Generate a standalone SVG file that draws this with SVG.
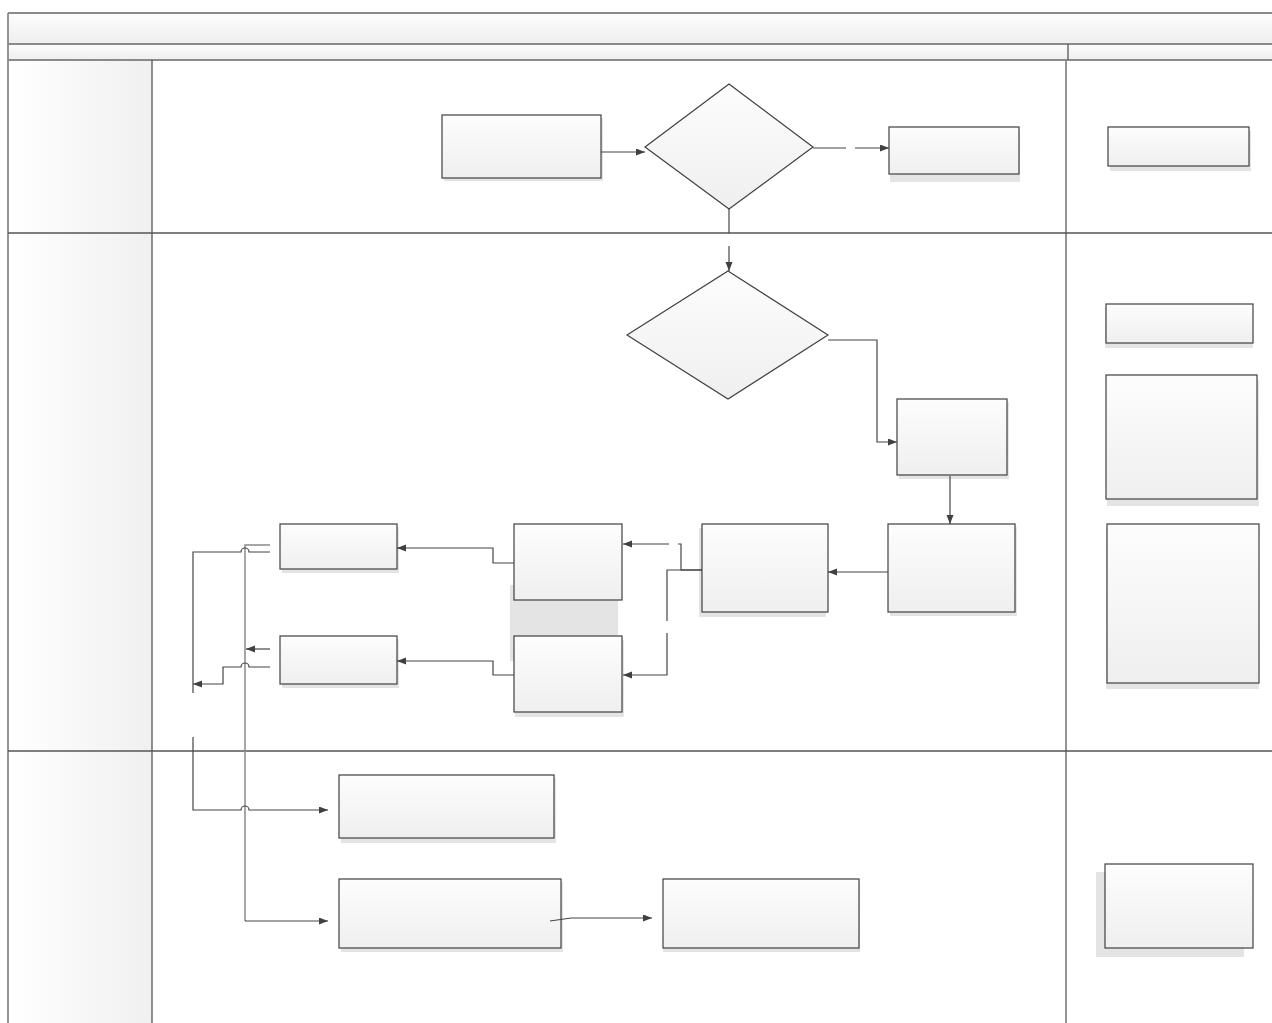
<svg xmlns="http://www.w3.org/2000/svg" width="1272" height="1023" viewBox="0 0 1272 1023">
<defs>
<linearGradient id="boxGrad" x1="0" y1="0" x2="0" y2="1"><stop offset="0" stop-color="#fdfdfd"/><stop offset="1" stop-color="#efefef"/></linearGradient>
<linearGradient id="headGrad" x1="0" y1="0" x2="1" y2="0"><stop offset="0" stop-color="#ffffff"/><stop offset="1" stop-color="#f0f0f0"/></linearGradient>
<linearGradient id="titleGrad" x1="0" y1="0" x2="0" y2="1"><stop offset="0" stop-color="#fdfdfd"/><stop offset="1" stop-color="#eeeeee"/></linearGradient>
<marker id="arr" markerWidth="10" markerHeight="8" refX="9" refY="3.5" orient="auto" markerUnits="userSpaceOnUse"><path d="M0,0 L9,3.5 L0,7 z" fill="#404040"/></marker>
</defs>
<style>
.box{fill:url(#boxGrad);stroke:#404040;stroke-width:1.2}
.sh{fill:#e4e4e4}
.lane{fill:none;stroke:#555;stroke-width:1.3}
.lane2{fill:none;stroke:#8a8a8a;stroke-width:1.8}
.c{fill:none;stroke:#454545;stroke-width:1.2}
.cg{fill:none;stroke:#8a8a8a;stroke-width:1.5}
</style>
<rect width="1272" height="1023" fill="#ffffff"/>
<g id="pool">
<rect x="8" y="13" width="1270" height="31" fill="url(#titleGrad)"/>
<rect x="8" y="44" width="1270" height="16" fill="url(#titleGrad)"/>
<rect x="8" y="60" width="144" height="963" fill="url(#headGrad)"/>
<line class="lane2" x1="8" y1="13" x2="1272" y2="13"/>
<line class="lane2" x1="8" y1="44" x2="1272" y2="44"/>
<line class="lane2" x1="8" y1="60" x2="1272" y2="60"/>
<line class="lane2" x1="8" y1="13" x2="8" y2="1023"/>
<line class="lane" x1="1068" y1="44" x2="1068" y2="60"/>
<line class="lane" x1="152" y1="60" x2="152" y2="1023"/>
<line class="lane2" x1="1066" y1="60" x2="1066" y2="1023"/>
<line class="lane" x1="8" y1="233" x2="1272" y2="233"/>
<line class="lane" x1="8" y1="751" x2="1272" y2="751"/>
</g>
<rect class="sh" x="510" y="585" width="108" height="76"/>
<g id="nA"><rect class="sh" x="444" y="118" width="159" height="63"/><rect class="box" x="442" y="115" width="159" height="63"/></g>
<g id="nD1"><polygon class="box" points="729,84 813,147 729,209 645,147"/></g>
<g id="nB"><rect class="sh" x="890" y="131" width="130" height="51"/><rect class="box" x="889" y="127" width="130" height="47"/></g>
<g id="nR1"><rect class="sh" x="1110" y="131" width="141" height="40"/><rect class="box" x="1108" y="127" width="141" height="39"/></g>
<g id="nD2"><polygon class="box" points="728,271 828,335 728,399 627,335"/></g>
<g id="nC"><rect class="sh" x="899" y="402" width="110" height="77"/><rect class="box" x="897" y="399" width="110" height="76"/></g>
<g id="nD"><rect class="sh" x="890" y="527" width="127" height="89"/><rect class="box" x="888" y="524" width="127" height="88"/></g>
<g id="nE"><rect class="sh" x="699" y="528" width="127" height="89"/><rect class="box" x="702" y="524" width="126" height="88"/></g>
<g id="nF"><rect class="box" x="514" y="524" width="108" height="76"/></g>
<g id="nG"><rect class="sh" x="515" y="640" width="109" height="77"/><rect class="box" x="514" y="636" width="108" height="76"/></g>
<g id="nH"><rect class="sh" x="282" y="527" width="117" height="46"/><rect class="box" x="280" y="524" width="117" height="45"/></g>
<g id="nI"><rect class="sh" x="282" y="639" width="117" height="49"/><rect class="box" x="280" y="636" width="117" height="48"/></g>
<g id="nJ"><rect class="sh" x="341" y="778" width="215" height="65"/><rect class="box" x="339" y="775" width="215" height="63"/></g>
<g id="nK"><rect class="sh" x="341" y="882" width="222" height="70"/><rect class="box" x="339" y="879" width="222" height="69"/></g>
<g id="nL"><rect class="sh" x="663" y="882" width="197" height="70"/><rect class="box" x="663" y="879" width="196" height="69"/></g>
<g id="nR2"><rect class="sh" x="1105" y="308" width="148" height="40"/><rect class="box" x="1106" y="304" width="147" height="39"/></g>
<g id="nR3"><rect class="sh" x="1107" y="380" width="152" height="126"/><rect class="box" x="1106" y="375" width="151" height="124"/></g>
<g id="nR4"><rect class="sh" x="1106" y="529" width="153" height="160"/><rect class="box" x="1107" y="524" width="152" height="159"/></g>
<g id="nR5"><rect class="sh" x="1096" y="872" width="148" height="85"/><rect class="box" x="1105" y="864" width="148" height="84"/></g>
<g id="connectors">
<path class="c" d="M601,152 H645" marker-end="url(#arr)"/>
<path class="c" d="M813,148 H846"/>
<path class="c" d="M855,148 H889" marker-end="url(#arr)"/>
<path class="c" d="M729,209 V233"/>
<path class="c" d="M729,246 V271" marker-end="url(#arr)"/>
<path class="c" d="M828,340 H877 V442 H897" marker-end="url(#arr)"/>
<path class="c" d="M950,476 V524" marker-end="url(#arr)"/>
<path class="c" d="M888,572 H828" marker-end="url(#arr)"/>
<path class="c" d="M702,570 H681 V544 H678"/>
<path class="c" d="M669,544 H623" marker-end="url(#arr)"/>
<path class="c" d="M681,570 H702" stroke-width="2.4"/>
<path class="c" d="M681,570 H667 V621"/>
<path class="c" d="M667,633 V675 H623" marker-end="url(#arr)"/>
<path class="c" d="M514,563 H493 V548 H397" marker-end="url(#arr)"/>
<path class="c" d="M514,675 H493 V661 H397" marker-end="url(#arr)"/>
<path class="cg" d="M270,545 H245 V921"/>
<path class="c" d="M245,921 H328" marker-end="url(#arr)"/>
<path class="c" d="M270,552 H249 A4,4 0 0 0 241,552 H193 V693"/>
<path class="c" d="M193,737 V810 H241 A4,4 0 0 1 249,810 H328" marker-end="url(#arr)"/>
<path class="c" d="M270,649 H246" marker-end="url(#arr)"/>
<path class="c" d="M270,667 H249 A4,4 0 0 0 241,667 H223 V684 H193" marker-end="url(#arr)"/>
<path class="c" d="M550,921 L571,918 H652" marker-end="url(#arr)"/>
</g>
</svg>
